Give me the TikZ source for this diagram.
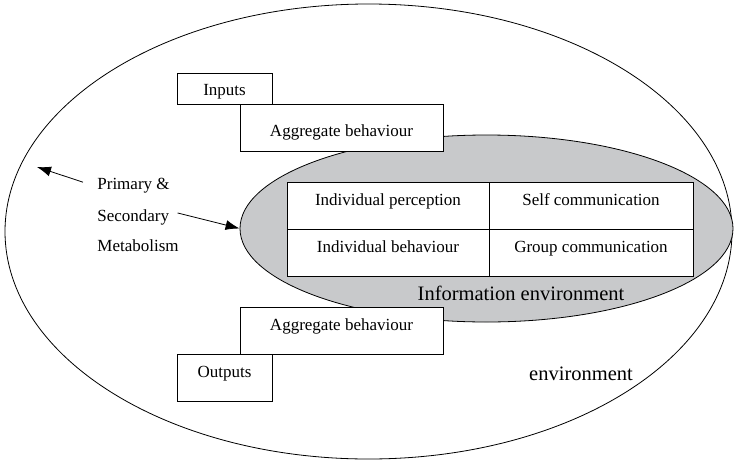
\documentclass[tikz,border=0pt]{standalone}
\usepackage{fontspec}
\setmainfont{Liberation Serif}
\usetikzlibrary{positioning,shapes.geometric,arrows.meta}
\definecolor{infogray}{RGB}{200,201,203}

\begin{document}
\begin{tikzpicture}[x=1pt,y=-1pt,line width=0.8pt,
  every node/.style={font=\fontsize{17}{20}\selectfont},
  stagebox/.style={draw,fill=white,inner sep=0pt,outer sep=0pt,minimum height=47pt,text height=12pt,text depth=13pt},
  cellbox/.style={stagebox,minimum width=202pt},
  biglabel/.style={font=\fontsize{20.5}{24}\selectfont,anchor=base}]
  \useasboundingbox (0,0) rectangle (734,461);
  % the two environments
  \node[ellipse,draw,inner sep=0pt,minimum width=727pt,minimum height=455pt] (env) at (368.5,231.5) {};
  \node[ellipse,draw,fill=infogray,inner sep=0pt,minimum width=493pt,minimum height=187pt] (info) at (486.5,228.5) {};
  % inputs and outputs
  \node[stagebox,minimum width=95pt,minimum height=31pt,text height=13pt,text depth=0pt] (inputs) at (224.5,88.5) {Inputs};
  \node[stagebox,minimum width=203pt,text height=17pt,text depth=0pt] (aggin) at (341.5,127.75) {Aggregate behaviour};
  \node[stagebox,minimum width=203pt] (aggout) at (341.5,330.5) {Aggregate behaviour};
  \node[stagebox,minimum width=95pt] (outputs) at (224.5,377.5) {Outputs};
  % table
  \node[cellbox] (perc) at (388,205.5) {Individual perception};
  \node[cellbox,minimum width=204pt,right=0pt of perc] (selfc) {Self communication};
  \node[cellbox,below=0pt of perc] (indb) {Individual behaviour};
  \node[cellbox,minimum width=204pt,below=0pt of selfc] (grpc) {Group communication};
  \node[biglabel] (infolab) at (521,300) {Information environment};
  \node[biglabel] (envlab) at (581,380) {environment};
  % metabolism
  \node[inner sep=0pt,anchor=base west] (prim) at (97,189) {Primary \&};
  \node[inner sep=0pt,anchor=base west] (secd) at (97,221) {Secondary};
  \node[inner sep=0pt,anchor=base west] (meta) at (97,251) {Metabolism};
  \coordinate (envpt) at (37,167);
  \draw[->,>={Latex[length=14pt,width=10pt]}] ([xshift=-14pt,yshift=3pt]prim.west) -- (envpt);
  \draw[->,>={Latex[length=14pt,width=10pt]}] ([xshift=8pt,yshift=4pt]secd.east) -- (info.west);
\end{tikzpicture}
\end{document}
